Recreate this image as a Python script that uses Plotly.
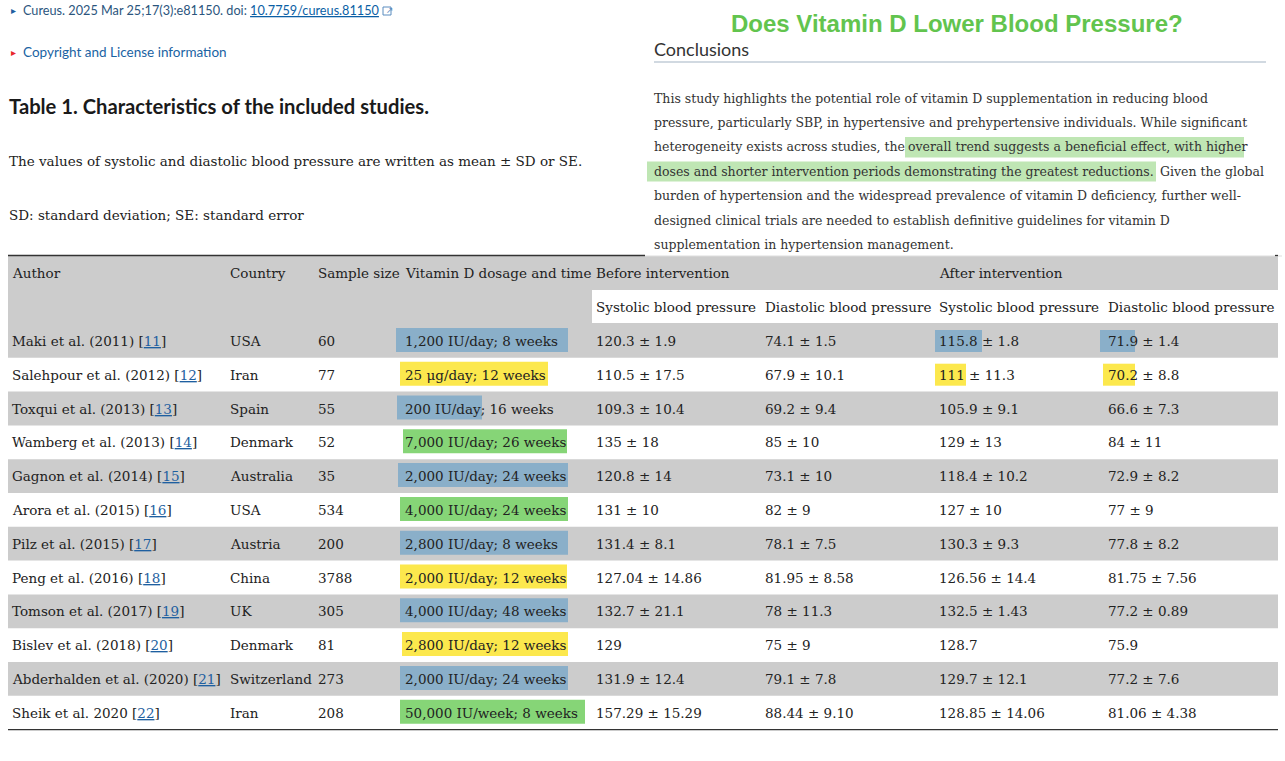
import plotly.graph_objects as go

# ---------------- data ----------------
authors = ["Maki et al. (2011)", "Salehpour et al. (2012)", "Toxqui et al. (2013)",
           "Wamberg et al. (2013)", "Gagnon et al. (2014)", "Arora et al. (2015)",
           "Pilz et al. (2015)", "Peng et al. (2016)", "Tomson et al. (2017)",
           "Bislev et al. (2018)", "Abderhalden et al. (2020)", "Sheik et al. 2020"]
refs = [11, 12, 13, 14, 15, 16, 17, 18, 19, 20, 21, 22]
countries = ["USA", "Iran", "Spain", "Denmark", "Australia", "USA", "Austria",
             "China", "UK", "Denmark", "Switzerland", "Iran"]
sample_sizes = [60, 77, 55, 52, 35, 534, 200, 3788, 305, 81, 273, 208]
dosages = ["1,200 IU/day; 8 weeks", "25 μg/day; 12 weeks", "200 IU/day; 16 weeks",
           "7,000 IU/day; 26 weeks", "2,000 IU/day; 24 weeks", "4,000 IU/day; 24 weeks",
           "2,800 IU/day; 8 weeks", "2,000 IU/day; 12 weeks", "4,000 IU/day; 48 weeks",
           "2,800 IU/day; 12 weeks", "2,000 IU/day; 24 weeks", "50,000 IU/week; 8 weeks"]
before_sbp = ["120.3 ± 1.9", "110.5 ± 17.5", "109.3 ± 10.4", "135 ± 18", "120.8 ± 14",
              "131 ± 10", "131.4 ± 8.1", "127.04 ± 14.86", "132.7 ± 21.1", "129",
              "131.9 ± 12.4", "157.29 ± 15.29"]
before_dbp = ["74.1 ± 1.5", "67.9 ± 10.1", "69.2 ± 9.4", "85 ± 10", "73.1 ± 10", "82 ± 9",
              "78.1 ± 7.5", "81.95 ± 8.58", "78 ± 11.3", "75 ± 9", "79.1 ± 7.8", "88.44 ± 9.10"]
after_sbp = ["115.8 ± 1.8", "111 ± 11.3", "105.9 ± 9.1", "129 ± 13", "118.4 ± 10.2",
             "127 ± 10", "130.3 ± 9.3", "126.56 ± 14.4", "132.5 ± 1.43", "128.7",
             "129.7 ± 12.1", "128.85 ± 14.06"]
after_dbp = ["71.9 ± 1.4", "70.2 ± 8.8", "66.6 ± 7.3", "84 ± 11", "72.9 ± 8.2", "77 ± 9",
             "77.8 ± 8.2", "81.75 ± 7.56", "77.2 ± 0.89", "75.9", "77.2 ± 7.6", "81.06 ± 4.38"]
dose_group = ["blue", "yellow", "blue", "green", "blue", "green", "blue", "yellow",
              "blue", "yellow", "blue", "green"]
header_top = ["Author", "Country", "Sample size", "Vitamin D dosage and time",
              "Before intervention", "", "After intervention", ""]
header_sub = ["", "", "", "", "Systolic blood pressure", "Diastolic blood pressure",
              "Systolic blood pressure", "Diastolic blood pressure"]

conclusion_lines = [
    ["This study highlights the potential role of vitamin D supplementation in reducing blood"],
    ["pressure, particularly SBP, in hypertensive and prehypertensive individuals. While significant"],
    ["heterogeneity exists across studies, the", "overall trend suggests a beneficial effect, with higher"],
    ["doses and shorter intervention periods demonstrating the greatest reductions.", "Given the global"],
    ["burden of hypertension and the widespread prevalence of vitamin D deficiency, further well-"],
    ["designed clinical trials are needed to establish definitive guidelines for vitamin D"],
    ["supplementation in hypertension management."],
]

# ---------------- style / geometry ----------------
W, H = 1285, 761
SERIF = "DejaVu Serif"
SANS = "Lato"
TXT = "#222222"
GRAY = "#cccccc"
HL = {"blue": "#8aafc9", "yellow": "#fce84d", "green": "#86d577"}
LINKBLUE = "#1e5fa0"
PAD = 2  # annotation inner padding compensation

col_x = [12, 230, 318, 405, 596, 765, 939, 1108]
tab_l, tab_r = 8, 1278
row0_top, row_h = 324, 33.8
hdr1_y, hdr2_y = 273, 307
fs_tab = 13.5

# dose highlight extents (left, right) per row
dose_box = [(396, 568), (400, 548), (397, 482), (403, 567), (398, 568), (400, 568),
            (400, 568), (400, 567), (400, 568), (402, 568), (400, 568), (400, 585)]

fig = go.Figure()
shapes = []
ann = []


def text(x, y, s, size=fs_tab, color=TXT, family=SERIF, xanchor="left", **kw):
    if xanchor == "left":
        x = x - PAD
    ann.append(dict(x=x, y=y, xref="x", yref="y", text=s, showarrow=False,
                    xanchor=xanchor, yanchor="middle",
                    font=dict(size=size, color=color, family=family), **kw))


def rect(x0, y0, x1, y1, color, layer="below", lc=None, lw=0):
    shapes.append(dict(type="rect", xref="x", yref="y", x0=x0, y0=y0, x1=x1, y1=y1,
                       fillcolor=color, line=dict(width=lw, color=lc), layer=layer))


def line(x0, y0, x1, y1, color, width=1):
    shapes.append(dict(type="line", xref="x", yref="y", x0=x0, y0=y0, x1=x1, y1=y1,
                       line=dict(color=color, width=width), layer="above"))


# ---------------- top-left block ----------------
text(11, 10, "▸", size=10, color="#1e5fa0", family="DejaVu Sans")
text(23, 10, "Cureus. 2025 Mar 25;17(3):e81150. doi: <span style='color:#0b5fa5'><u>10.7759/cureus.81150</u></span>",
     size=12.7, color="#2b557d", family=SANS)
# external-link icon
rect(383, 7, 391, 15, "rgba(0,0,0,0)", layer="above", lc="#5b8cbf", lw=1)
text(386, 10, "↗", size=9, color="#5b8cbf", family="DejaVu Sans")
text(11, 52, "▸", size=10, color="#e8262c", family="DejaVu Sans")
text(23, 52, "Copyright and License information", size=13.5, color="#1a63a3", family=SANS)
text(9, 106, "<b>Table 1. Characteristics of the included studies.</b>", size=20.2,
     color="#1a1a1a", family=SANS)
text(9, 161, "The values of systolic and diastolic blood pressure are written as mean ± SD or SE.",
     size=13.5, color=TXT)
text(9, 215, "SD: standard deviation; SE: standard error", size=13.5, color=TXT)

# ---------------- conclusions block ----------------
text(957, 23, "<b>Does Vitamin D Lower Blood Pressure?</b>", size=24, color="#62c44e",
     family="Liberation Sans", xanchor="center")
text(654, 49, "Conclusions", size=18, color="#333333", family=SANS)
line(654, 62, 1266, 62, "#a3b3c3", 1)
cy0, cdy = 98, 24.4
CFS = 12.5
CCOL = "#333333"
rect(905, 137, 1244, 157.5, "#bfe6b4")
rect(647, 161.5, 1156, 181.5, "#bfe6b4")
for i, parts in enumerate(conclusion_lines):
    y = cy0 + cdy * i
    if i == 2:
        text(654, y, parts[0], size=CFS, color=CCOL)
        text(908, y, parts[1], size=CFS, color=CCOL)
    elif i == 3:
        text(654, y, parts[0], size=CFS, color=CCOL)
        text(1160, y, parts[1], size=CFS, color=CCOL)
    else:
        text(654, y, parts[0], size=CFS, color=CCOL)
line(640, 256, 1282, 256, "#dddddd", 1)

# ---------------- table ----------------
n = len(authors)
rect(tab_l, 256, tab_r, row0_top, GRAY)
rect(592, 290, tab_r, row0_top - 1, "#ffffff")
for i in range(n):
    if i % 2 == 0:
        rect(tab_l, row0_top + i * row_h, tab_r, row0_top + (i + 1) * row_h, GRAY)
line(tab_l, 255.5, 645, 255.5, "#333333", 1.3)
line(1275, 255.5, tab_r, 255.5, "#333333", 1.3)
line(tab_l, row0_top + n * row_h, tab_r, row0_top + n * row_h, "#333333", 1.3)

for cx, h in zip(col_x, header_top):
    if h:
        text(cx, hdr1_y, h)
for cx, h in zip(col_x, header_sub):
    if h:
        text(cx, hdr2_y, h)

for i in range(n):
    yc = row0_top + (i + 0.5) * row_h
    x0, x1 = dose_box[i]
    rect(x0, yc - 13, x1, yc + 11, HL[dose_group[i]])
    text(col_x[0], yc, f"{authors[i]} [<span style='color:{LINKBLUE}'><u>{refs[i]}</u></span>]")
    text(col_x[1], yc, countries[i])
    text(col_x[2], yc, str(sample_sizes[i]))
    text(col_x[3], yc, dosages[i])
    text(col_x[4], yc, before_sbp[i])
    text(col_x[5], yc, before_dbp[i])
    text(col_x[6], yc, after_sbp[i])
    text(col_x[7], yc, after_dbp[i])

after_hl = [(0, "blue", (935, 982), (1100, 1135)), (1, "yellow", (935, 966), (1103, 1135))]
for i, g, (a0, a1), (b0, b1) in after_hl:
    yc = row0_top + (i + 0.5) * row_h
    rect(a0, yc - 11, a1, yc + 11, HL[g])
    rect(b0, yc - 11, b1, yc + 11, HL[g])

fig.update_layout(
    width=W, height=H, margin=dict(l=0, r=0, t=0, b=0),
    paper_bgcolor="#ffffff", plot_bgcolor="#ffffff",
    xaxis=dict(range=[0, W], visible=False, fixedrange=True),
    yaxis=dict(range=[H, 0], visible=False, fixedrange=True),
    shapes=shapes, annotations=ann, showlegend=False,
)
fig.write_html("out.html", config={"displayModeBar": False},
               post_script="document.body.style.margin='0';document.body.style.overflow='hidden';")
